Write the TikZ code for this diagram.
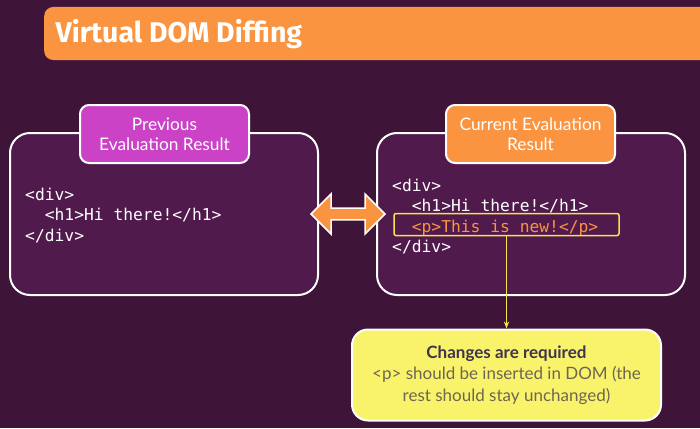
\documentclass[tikz,border=0pt]{standalone}
\usepackage{fontspec}
\setmainfont{Lato}
\setmonofont{DejaVu Sans Mono}
\newfontfamily\titlefont{Fira Sans}
\usetikzlibrary{shapes.arrows}
\usetikzlibrary{arrows.meta}
\usetikzlibrary{positioning}
\definecolor{bgpurple}{HTML}{3E1539}
\definecolor{boxpurple}{HTML}{511A4C}
\definecolor{slideorange}{HTML}{FA9440}
\definecolor{labelmagenta}{HTML}{CB42C6}
\definecolor{noteyellow}{HTML}{F9F36C}
\definecolor{codeyellow}{HTML}{F3E54A}
\definecolor{notedark}{HTML}{3F3350}
\definecolor{notegrey}{HTML}{6E6552}
\newcommand{\indentcode}{\hphantom{xx}}

\begin{document}
\begin{tikzpicture}[x=1pt,y=-1pt,
  panel/.style={draw=white,line width=2pt,fill=boxpurple,rounded corners=20pt,
    minimum width=308pt,minimum height=162pt},
  tag/.style={draw=white,line width=2pt,rounded corners=9pt,text=white,align=center,
    minimum width=169pt,minimum height=58pt,font=\fontsize{17.3}{20}\selectfont},
  code/.style={anchor=north west,align=left,text=white,inner sep=0pt,
    font=\ttfamily\fontsize{16.3}{20.3}\selectfont},
  note/.style={draw=white,line width=2pt,fill=noteyellow,rounded corners=16pt,align=center,
    minimum width=309pt,minimum height=91pt,text=notegrey,font=\fontsize{17}{21.5}\selectfont}]
\fill[bgpurple] (0,0) rectangle (700,428);
\useasboundingbox (0,0) rectangle (700,428);
% title bar
\node[fill=slideorange,rounded corners=9pt,minimum width=680pt,minimum height=53pt,anchor=west] (bar) at (44,33.5) {};
\node[anchor=west,text=white,font=\titlefont\bfseries\fontsize{28.5}{28.5}\selectfont] (title) at (52,34) {Virtual DOM Diffing};
% old and new result
\node[panel] (prev) at (164,214) {};
\node[panel] (curr) at (531,214) {};
\node[tag,fill=labelmagenta] (prevtag) at (164.5,134) {Previous\\Evaluation Result};
\node[tag,fill=slideorange] (currtag) at (530.5,134) {Current Evaluation\\Result};
\node[code] (prevcode) at (25,188) {<div>\\\indentcode<h1>Hi there!</h1>\\</div>};
\node[code] (currcode) at (392,179) {<div>\\\indentcode<h1>Hi there!</h1>\\\indentcode\textcolor{slideorange}{<p>This is new!</p>}\\</div>};
\node[draw=codeyellow,line width=1.5pt,rounded corners=2pt,minimum width=225pt,minimum height=22pt] (newline) at (506.5,224.5) {};
\node[double arrow,fill=slideorange,draw=white,line width=1.5pt,minimum height=74pt,minimum width=40pt,
  double arrow head extend=10pt,double arrow head indent=0pt] (swap) at (348,214) {};
% result
\node[note] (note) at (506.5,375) {\textcolor{notedark}{\bfseries Changes are required}\\<p> should be inserted in DOM (the\\rest should stay unchanged)};
\draw[codeyellow,line width=1.2pt,-{Stealth[length=7pt]}] (newline.south) -- (note.north);
\end{tikzpicture}
\end{document}
